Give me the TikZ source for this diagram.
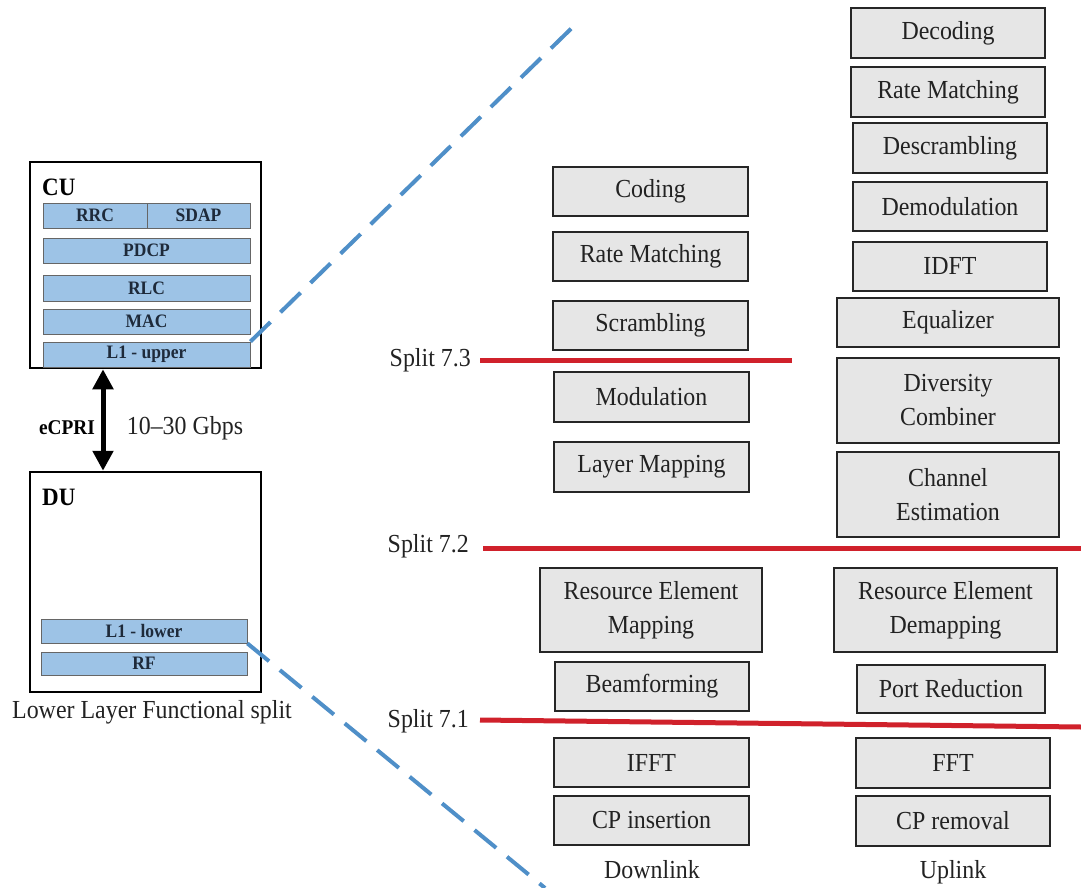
\documentclass[tikz,border=0pt]{standalone}
\usepackage{fontspec}
\setmainfont{Liberation Serif}[FakeStretch=0.92]
\usetikzlibrary{arrows.meta}
\definecolor{boxfill}{HTML}{E6E6E6}
\definecolor{barfill}{HTML}{9DC3E6}
\definecolor{splitred}{HTML}{D0212B}
\definecolor{dashblue}{HTML}{4F8FC8}
\definecolor{txt}{HTML}{222222}
\definecolor{bartxt}{HTML}{1E2A3A}
\begin{document}
\begin{tikzpicture}[x=1pt,y=-1pt,
  fbox/.style={draw=black!85, line width=2.5pt, fill=boxfill, inner sep=0pt, align=center,
    font=\fontsize{26}{34}\selectfont, text=txt},
  bar/.style={draw=black!60, line width=0.8pt, fill=barfill, inner sep=0pt,
    font=\fontsize{19}{20}\selectfont\bfseries, text=bartxt},
  unitbox/.style={draw=black, line width=2.5pt, inner sep=0pt},
  lbl/.style={inner sep=0pt, font=\fontsize{26}{30}\selectfont, text=txt},
  blbl/.style={inner sep=0pt, font=\fontsize{25}{28}\selectfont\bfseries, text=black},
  splitline/.style={draw=splitred, line width=5pt},
  zoomline/.style={draw=dashblue, line width=4pt, dash pattern=on 28pt off 14pt},
  dblarrow/.style={line width=5pt, {Triangle[length=20pt,width=20pt]}-{Triangle[length=20pt,width=20pt]}},
]
\useasboundingbox (0,0) rectangle (1081,888);

% ---------- left: CU / DU ----------
\node[unitbox, minimum width=231pt, minimum height=206pt] (cu) at (145.5,265) {};
\node[blbl, anchor=west] (culbl) at (42,187) {CU};
\node[bar, minimum width=104pt, minimum height=25pt] (rrc) at (95,215.5) {RRC};
\node[bar, minimum width=103pt, minimum height=25pt] (sdap) at (198.5,215.5) {SDAP};
\node[bar, minimum width=207pt, minimum height=25pt] (pdcp) at (146.5,250.5) {PDCP};
\node[bar, minimum width=207pt, minimum height=26pt] (rlc) at (146.5,288) {RLC};
\node[bar, minimum width=207pt, minimum height=25pt] (mac) at (146.5,321.5) {MAC};
\node[bar, minimum width=207pt, minimum height=25pt] (l1u) at (146.5,354.5) {L1 - upper};

\node[unitbox, minimum width=231pt, minimum height=220pt] (du) at (145.5,582) {};
\node[blbl, anchor=west] (dulbl) at (42,497) {DU};
\node[bar, minimum width=206pt, minimum height=24pt] (l1l) at (144,631) {L1 - lower};
\node[bar, minimum width=206pt, minimum height=23pt] (rf) at (144,663.5) {RF};
\node[lbl] (llfs) at (152,712) {Lower Layer Functional split};

\coordinate (arrx) at (103,0);
\draw[dblarrow] (cu.south -| arrx) -- (du.north -| arrx);
\node[inner sep=0pt, font=\fontsize{21}{24}\selectfont\bfseries, text=black] (ecpri) at (67,428) {eCPRI};
\node[inner sep=0pt, font=\fontsize{26}{28}\selectfont, text=txt] (rate) at (185,428) {10--30 Gbps};

% ---------- zoom lines ----------
\coordinate (zt) at (580,20);
\coordinate (zb) at (545,888);
\draw[zoomline] (l1u.north east) -- (zt);
\draw[zoomline] (l1l.south east) -- (zb);

% ---------- downlink column ----------
\node[fbox, minimum width=195pt, minimum height=49pt] (coding) at (650.5,191.5) {Coding};
\node[fbox, minimum width=195pt, minimum height=49pt] (rmd) at (650.5,256.5) {Rate Matching};
\node[fbox, minimum width=195pt, minimum height=49pt] (scr) at (650.5,325.5) {Scrambling};
\node[fbox, minimum width=195pt, minimum height=50pt] (mod) at (651.5,397) {Modulation};
\node[fbox, minimum width=195pt, minimum height=50pt] (laym) at (651.5,467) {Layer Mapping};
\node[fbox, minimum width=222pt, minimum height=84pt] (rem) at (651,610) {Resource Element\\Mapping};
\node[fbox, minimum width=194pt, minimum height=49pt] (beam) at (652,686.5) {Beamforming};
\node[fbox, minimum width=195pt, minimum height=49pt] (ifft) at (651.5,762.5) {IFFT};
\node[fbox, minimum width=195pt, minimum height=49pt] (cpi) at (651.5,820.5) {CP insertion};
\node[lbl] (dl) at (652,870) {Downlink};

% ---------- uplink column ----------
\node[fbox, minimum width=194pt, minimum height=50pt] (dec) at (948,33) {Decoding};
\node[fbox, minimum width=194pt, minimum height=50pt] (rmu) at (948,92) {Rate Matching};
\node[fbox, minimum width=194pt, minimum height=50pt] (descr) at (950,148) {Descrambling};
\node[fbox, minimum width=194pt, minimum height=49pt] (demod) at (950,206.5) {Demodulation};
\node[fbox, minimum width=194pt, minimum height=49pt] (idft) at (950,266.5) {IDFT};
\node[fbox, minimum width=222pt, minimum height=49pt] (eq) at (948,322.5) {Equalizer};
\node[fbox, minimum width=222pt, minimum height=85pt] (div) at (948,400.5) {Diversity\\Combiner};
\node[fbox, minimum width=222pt, minimum height=85pt] (chest) at (948,494.5) {Channel\\Estimation};
\node[fbox, minimum width=223pt, minimum height=84pt] (redm) at (945.5,610) {Resource Element\\Demapping};
\node[fbox, minimum width=188pt, minimum height=48pt] (portr) at (951,689) {Port Reduction};
\node[fbox, minimum width=194pt, minimum height=50pt] (fft) at (953,763) {FFT};
\node[fbox, minimum width=194pt, minimum height=50pt] (cpr) at (953,821) {CP removal};
\node[lbl] (ul) at (953,872) {Uplink};

% ---------- split lines ----------
\node[lbl, anchor=east] (s73) at (471,360) {Split 7.3};
\node[lbl, anchor=east] (s72) at (469,546) {Split 7.2};
\node[lbl, anchor=east] (s71) at (469,721) {Split 7.1};
\coordinate (a73) at (480,360);
\coordinate (e73) at (792,360);
\coordinate (a72) at (483,548);
\coordinate (e72) at (1081,548);
\coordinate (a71) at (480,720);
\coordinate (e71) at (1081,727);
\draw[splitline] (a73) -- (e73);
\draw[splitline] (a72) -- (e72);
\draw[splitline] (a71) -- (e71);
\end{tikzpicture}
\end{document}
